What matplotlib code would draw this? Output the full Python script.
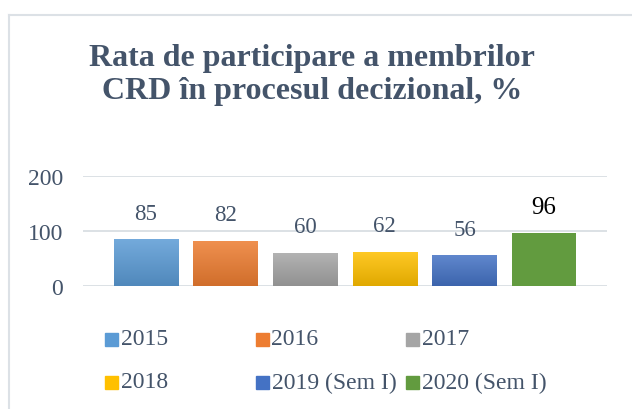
import matplotlib.pyplot as plt
import numpy as np
from matplotlib.patches import Rectangle
from matplotlib.lines import Line2D
from matplotlib.colors import LinearSegmentedColormap, to_rgb

plt.rcParams['font.family'] = ['Liberation Serif', 'DejaVu Serif']

years = ['2015', '2016', '2017', '2018', '2019 (Sem I)', '2020 (Sem I)']
values = [85, 82, 60, 62, 56, 96]
colors = ['#5B9BD5', '#ED7D31', '#A5A5A5', '#FFC000', '#4472C4', '#629B3F']
yticks = [0, 100, 200]

text_col = '#44546A'


def shade(c, f):
    r = np.array(to_rgb(c))
    return tuple(r + (1 - r) * f) if f > 0 else tuple(r * (1 + f))


fig = plt.figure(figsize=(6.32, 4.10), dpi=100)
W, H = 632, 410

# chart border (cut off at right/bottom)
fig.add_artist(Line2D([9 / W, 9 / W], [0, 1 - 16 / H], color='#DCE1E6', lw=1.5))
fig.add_artist(Line2D([9 / W, 1], [1 - 16 / H, 1 - 16 / H], color='#DCE1E6', lw=1.5))

fig.text(312 / W, 1 - 75 / H, 'Rata de participare a membrilor\nCRD în procesul decizional, %',
         ha='center', va='center', fontsize=23, fontweight='bold', color=text_col,
         linespacing=1.17)

ax = fig.add_axes([82.7 / W, 1 - 286.7 / H, 524.3 / W, 110 / H])
x = np.arange(len(values))
bars = ax.bar(x, values, width=0.81, color=colors, zorder=3)
grad = np.linspace(1, 0, 64).reshape(-1, 1)
for b, c, last in zip(bars, colors, [False] * 5 + [True]):
    if last:
        continue
    cmap = LinearSegmentedColormap.from_list('g', [shade(c, -0.12), shade(c, 0.15)])
    bx, by = b.get_x(), b.get_y()
    im = ax.imshow(grad, cmap=cmap, aspect='auto', zorder=4,
                   extent=[bx, bx + b.get_width(), by, by + b.get_height()])
    im.set_clip_path(b)
ax.set_xlim(-0.795, 5.79)
ax.set_ylim(0, 200)
ax.set_yticks(yticks)
ax.set_xticks([])
ax.grid(axis='y', color='#D9DEE3', lw=1.3, zorder=0)
for s in ax.spines.values():
    s.set_visible(False)
ax.tick_params(axis='y', length=0, labelsize=17, labelcolor=text_col, pad=14)

for i, v in enumerate(values):
    last = i == len(values) - 1
    ax.annotate(str(v), (i, v), xytext=(0, 11), textcoords='offset points',
                ha='center', va='bottom', fontsize=18 if last else 16.5,
                color='black' if last else text_col)

# legend: 3 equal-width columns, 2 rows
for i, (lab, c) in enumerate(zip(years, colors)):
    col, row = i % 3, i // 3
    lx = 105 + col * 150.5
    ly = 340 + row * 43
    fig.add_artist(Rectangle((lx / W, 1 - (ly + 6.5) / H), 13 / W, 13 / H,
                             color=c, transform=fig.transFigure))
    fig.text((lx + 16) / W, 1 - ly / H, lab, ha='left', va='center',
             fontsize=17, color=text_col)

fig.savefig('out.png', dpi=100)
